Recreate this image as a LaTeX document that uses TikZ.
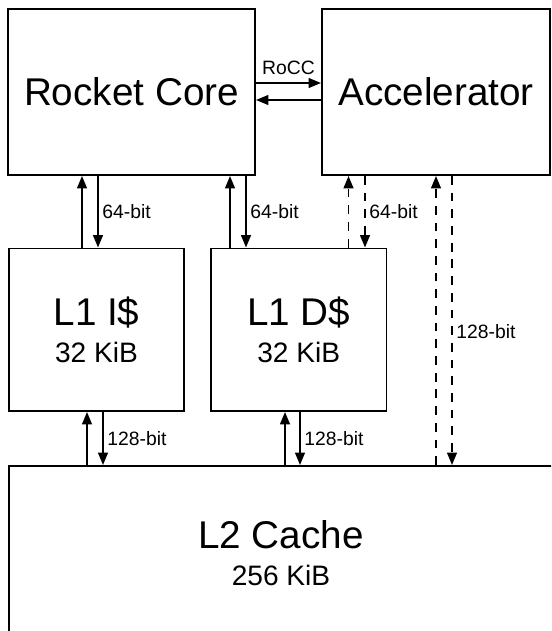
\documentclass[tikz,border=0pt]{standalone}
\usepackage{fontspec}
\setmainfont{Liberation Sans}
\usepackage{tikz}
\usetikzlibrary{arrows.meta, positioning}

\begin{document}
\begin{tikzpicture}[
    box/.style={rectangle, draw=black, line width=1.1pt, inner sep=0pt, align=center, font=\fontsize{22}{21}\selectfont},
    size/.style={font=\fontsize{16}{19}\selectfont},
    arr/.style={-{Triangle[length=7pt, width=5.5pt]}, line width=1.1pt},
    dasharr/.style={arr, dash pattern=on 5pt off 4.5pt},
    bus/.style={font=\fontsize{11}{13}\selectfont, inner sep=2pt}
]
\useasboundingbox (0,0) rectangle (11.02,-12.62);
\clip (0,0) rectangle (11.02,-12.62);

% Top row: core and accelerator
\node[box, minimum width=4.94cm, minimum height=3.32cm] (rocket) at (2.63,-1.84) {Rocket Core};
\node[box, minimum width=4.56cm, minimum height=3.32cm] (accel) at (8.72,-1.84) {Accelerator};

% L1 caches
\node[box, minimum width=3.5cm, minimum height=3.25cm] (l1i) at (1.93,-6.595) {L1 I\$\\{\fontsize{16}{19}\selectfont 32 KiB}};
\node[box, minimum width=3.51cm, minimum height=3.25cm] (l1d) at (5.975,-6.595) {L1 D\$\\{\fontsize{16}{19}\selectfont 32 KiB}};

% L2 cache (runs off the page)
\node[box, minimum width=10.88cm, minimum height=3.48cm] (l2) at (5.62,-11.06) {L2 Cache\\{\fontsize{16}{19}\selectfont 256 KiB}};

% RoCC link
\draw[arr] (rocket.east |- 0,-1.66) -- (accel.west |- 0,-1.66) node[bus, midway, above=2pt] (rocc) {RoCC};
\draw[arr] (accel.west |- 0,-2.00) -- (rocket.east |- 0,-2.00);

% Core to L1
\draw[arr] (l1i.north -| 1.64,0) -- (rocket.south -| 1.64,0);
\draw[arr] (rocket.south -| 1.96,0) -- (l1i.north -| 1.96,0) node[bus, midway, right] (bi) {64-bit};
\draw[arr] (l1d.north -| 4.60,0) -- (rocket.south -| 4.60,0);
\draw[arr] (rocket.south -| 4.92,0) -- (l1d.north -| 4.92,0) node[bus, midway, right] (bd) {64-bit};

% Accelerator to L1 D$ and L2
\draw[dasharr] (l1d.north -| 6.97,0) -- (accel.south -| 6.97,0);
\draw[dasharr] (accel.south -| 7.30,0) -- (l1d.north -| 7.30,0) node[bus, midway, right] (ba) {64-bit};
\draw[dasharr] (l2.north -| 8.72,0) -- (accel.south -| 8.72,0);
\draw[dasharr] (accel.south -| 9.04,0) -- (l2.north -| 9.04,0) node[bus, pos=0.54, right] (bx) {128-bit};

% L1 to L2
\draw[arr] (l2.north -| 1.74,0) -- (l1i.south -| 1.74,0);
\draw[arr] (l1i.south -| 2.06,0) -- (l2.north -| 2.06,0) node[bus, midway, right] (ci) {128-bit};
\draw[arr] (l2.north -| 5.70,0) -- (l1d.south -| 5.70,0);
\draw[arr] (l1d.south -| 6.00,0) -- (l2.north -| 6.00,0) node[bus, midway, right] (cd) {128-bit};

\end{tikzpicture}
\end{document}
